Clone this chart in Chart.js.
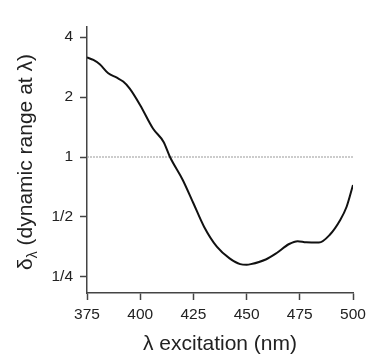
<!DOCTYPE html>
<html>
<head>
<meta charset="utf-8">
<script src="https://cdn.jsdelivr.net/npm/chart.js@4.4.1/dist/chart.umd.min.js"></script>
<style>
  html, body { margin: 0; padding: 0; background: #fff; }
  canvas { display: block; }
</style>
</head>
<body>
<canvas id="rangeChart" width="366" height="361"></canvas>
<script>
// excitation wavelength (nm) and dynamic range at that wavelength
const wavelengths = [375, 378, 381, 385, 389, 392, 395, 400, 406, 411, 414, 420, 425, 430, 436, 442, 447, 450, 452, 459, 464, 470, 474, 478, 484, 489, 494, 497, 500];
const dynamicRange = [3.16, 3.07, 2.92, 2.63, 2.50, 2.39, 2.21, 1.82, 1.39, 1.19, 1.0, 0.767, 0.586, 0.447, 0.355, 0.310, 0.290, 0.288, 0.290, 0.306, 0.329, 0.366, 0.378, 0.373, 0.372, 0.406, 0.483, 0.563, 0.724];

// reference level (dotted line)
const referenceLevel = 1;

const xTicks = [375, 400, 425, 450, 475, 500];
const yTickValues = [0.25, 0.5, 1, 2, 4];
const yTickLabels = ["1/4", "1/2", "1", "2", "4"];

const FONT = "'Liberation Sans', Arial, sans-serif";
const AXIS_COLOR = "#444";
const TEXT_COLOR = "#222";

// y title with subscript lambda, drawn by hand
const yTitlePlugin = {
    id: "yTitle",
    afterDraw(chart) {
        const ctx = chart.ctx;
        const main = "δ";
        const sub = "λ";
        const rest = " (dynamic range at λ)";
        ctx.save();
        ctx.fillStyle = TEXT_COLOR;
        ctx.textBaseline = "alphabetic";
        ctx.font = "21px " + FONT;
        const wMain = ctx.measureText(main).width;
        const wRest = ctx.measureText(rest).width;
        ctx.font = "14px " + FONT;
        const wSub = ctx.measureText(sub).width;
        const total = wMain + wSub + wRest;
        ctx.translate(32, 162);
        ctx.rotate(-Math.PI / 2);
        let x = -total / 2;
        ctx.font = "21px " + FONT;
        ctx.fillText(main, x, 0);
        x += wMain;
        ctx.font = "14px " + FONT;
        ctx.fillText(sub, x, 5);
        x += wSub;
        ctx.font = "21px " + FONT;
        ctx.fillText(rest, x, 0);
        ctx.restore();
    }
};

const ctx = document.getElementById("rangeChart");
new Chart(ctx, {
    type: "line",
    data: {
        datasets: [
            {
                data: wavelengths.map((w, i) => ({ x: w, y: dynamicRange[i] })),
                borderColor: "#111",
                borderWidth: 2,
                pointRadius: 0,
                cubicInterpolationMode: "monotone",
                fill: false,
            },
            {
                data: [
                    { x: xTicks[0], y: referenceLevel },
                    { x: xTicks[xTicks.length - 1], y: referenceLevel },
                ],
                borderColor: "#999",
                borderWidth: 1,
                borderDash: [2, 1],
                pointRadius: 0,
                fill: false,
            },
        ],
    },
    options: {
        responsive: false,
        animation: false,
        layout: { padding: { top: 27, right: 13, left: 0, bottom: 0 } },
        plugins: {
            legend: { display: false },
            tooltip: { enabled: false },
        },
        scales: {
            x: {
                type: "linear",
                min: xTicks[0],
                max: xTicks[xTicks.length - 1],
                afterBuildTicks: (axis) => {
                    axis.ticks = xTicks.map((v) => ({ value: v }));
                },
                afterFit: (axis) => {
                    axis.height = 68;
                    axis.paddingLeft = 0;
                    axis.paddingRight = 0;
                },
                grid: { drawOnChartArea: false, drawTicks: true, tickLength: 7, color: AXIS_COLOR, tickWidth: 1.5 },
                border: { color: AXIS_COLOR, width: 1.5 },
                ticks: { color: TEXT_COLOR, font: { family: FONT, size: 15.5 }, padding: 5, maxRotation: 0 },
                title: {
                    display: true,
                    text: "λ excitation (nm)",
                    color: TEXT_COLOR,
                    font: { family: FONT, size: 21 },
                    padding: { top: 3 },
                },
            },
            y: {
                type: "logarithmic",
                min: Math.pow(2, -2.267),
                max: Math.pow(2, 2.167),
                afterBuildTicks: (axis) => {
                    axis.ticks = yTickValues.map((v) => ({ value: v }));
                },
                afterFit: (axis) => {
                    axis.width = 87;
                    axis.paddingTop = 0;
                    axis.paddingBottom = 0;
                },
                grid: { drawOnChartArea: false, drawTicks: true, tickLength: 7, color: AXIS_COLOR, tickWidth: 1.5 },
                border: { color: AXIS_COLOR, width: 1.5 },
                ticks: {
                    color: TEXT_COLOR,
                    font: { family: FONT, size: 15.5 },
                    padding: 7,
                    callback: (v) => {
                        const i = yTickValues.indexOf(v);
                        return i >= 0 ? yTickLabels[i] : "";
                    },
                },
            },
        },
    },
    plugins: [yTitlePlugin],
});
</script>
</body>
</html>
